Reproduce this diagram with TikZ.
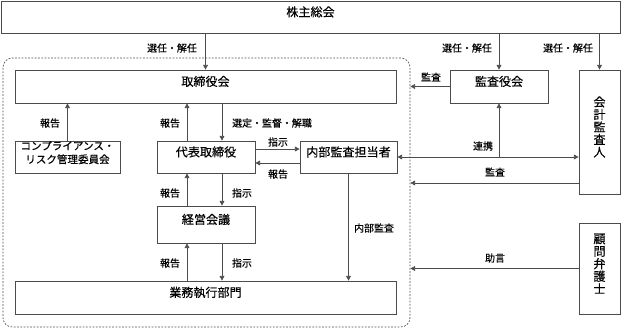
\documentclass[tikz,border=0pt]{standalone}
\usepackage{fontspec}
\setmainfont{Noto Sans CJK JP}[FakeBold=0.4]
\usetikzlibrary{arrows.meta, positioning, fit}
\newcommand{\boxfont}{\fontsize{10.3pt}{10.7pt}\selectfont}
\newcommand{\lblfont}{\fontsize{8.5pt}{10pt}\selectfont}

\begin{document}
\begin{tikzpicture}[x=0.03cm, y=-0.03cm,
    box/.style={draw=black!70, line width=0.6pt, inner sep=0pt, font=\boxfont, align=center},
    lbl/.style={font=\lblfont, inner sep=1pt},
    arr/.style={-{Triangle[length=4pt,width=4pt]}, black!70, line width=0.6pt},
    darr/.style={{Triangle[length=4pt,width=4pt]}-{Triangle[length=4pt,width=4pt]}, black!70, line width=0.6pt}
]
    \useasboundingbox (0,0) rectangle (621,328);

    % Outer bodies
    \node[box, fit={(1,1) (620,33)}] (soukai) {株主総会};
    \node[draw=black!70, line width=0.6pt, dash pattern=on 1.5pt off 1.3pt, rounded corners=8pt,
          inner sep=0pt, fit={(3,58) (410,327)}] (group) {};
    \node[box, fit={(450,70) (548,103)}] (kansa) {監査役会};
    \node[box, fit={(579,70) (620,194)}] (kaikei) {会\\計\\監\\査\\人};
    \node[box, fit={(579,223) (620,314)}] (komon) {顧\\問\\弁\\護\\士};

    % Inside the company
    \node[box, fit={(15,70) (396,103)}] (tori) {取締役会};
    \node[box, fit={(15,141) (120,173)}, font=\fontsize{9pt}{11.5pt}\selectfont] (comp) {コンプライアンス・\\リスク管理委員会};
    \node[box, fit={(157,141) (255,173)}] (daihyo) {代表取締役};
    \node[box, fit={(300,141) (397,173)}] (naibu) {内部監査担当者};
    \node[box, fit={(157,206) (255,243)}] (keiei) {経営会議};
    \node[box, fit={(15,281) (396,314)}] (gyomu) {業務執行部門};

    % Line positions
    \coordinate (up) at (187,0);
    \coordinate (down) at (222,0);
    \coordinate (toR) at (0,149);
    \coordinate (toL) at (0,163);
    \coordinate (audit) at (0,183);

    % Election by the shareholders
    \draw[arr] (soukai.south -| tori.north) -- (tori.north);
    \draw[arr] (soukai.south -| kansa.north) -- (kansa.north);
    \draw[arr] (soukai.south -| kaikei.north) -- (kaikei.north);
    \node[lbl] (sen1) at (172,48) {選任・解任};
    \node[lbl] (sen2) at (467,48) {選任・解任};
    \node[lbl] (sen3) at (568,48) {選任・解任};

    % Audit board
    \draw[arr] (kansa.west) -- (kansa.west -| group.east);
    \node[lbl] (kansa1) at (431,77) {監査};

    % Board and representative director
    \draw[arr] (comp.north) -- (comp.north |- tori.south);
    \node[lbl] (hou1) at (50,123) {報告};
    \draw[arr] (daihyo.north -| up) -- (tori.south -| up);
    \node[lbl] (hou2) at (170,123) {報告};
    \draw[arr] (tori.south -| down) -- (daihyo.north -| down);
    \node[lbl] (sentei) at (272,123) {選定・監督・解職};

    % Representative director and internal audit
    \draw[arr] (daihyo.east |- toR) -- (naibu.west |- toR);
    \node[lbl] (shiji1) at (278,142) {指示};
    \draw[arr] (naibu.west |- toL) -- (daihyo.east |- toL);
    \node[lbl] (hou3) at (278,174) {報告};

    % Management meeting
    \draw[arr] (keiei.north -| up) -- (daihyo.south -| up);
    \node[lbl] (hou4) at (170,193) {報告};
    \draw[arr] (daihyo.south -| down) -- (keiei.north -| down);
    \node[lbl] (shiji2) at (242,193) {指示};

    % Business division
    \draw[arr] (gyomu.north -| up) -- (keiei.south -| up);
    \node[lbl] (hou5) at (170,263) {報告};
    \draw[arr] (keiei.south -| down) -- (gyomu.north -| down);
    \node[lbl] (shiji3) at (242,263) {指示};
    \draw[arr] (naibu.south) -- (naibu.south |- gyomu.north);
    \node[lbl] (naibukansa) at (374,228) {内部監査};

    % Accounting auditor
    \draw[darr] (naibu.east) -- (naibu.east -| kaikei.west);
    \draw[arr] (naibu.east -| kansa.south) -- (kansa.south);
    \node[lbl] (renkei) at (483,146) {連携};
    \draw[arr] (kaikei.west |- audit) -- (group.east |- audit);
    \node[lbl] (kansa2) at (495,172) {監査};

    % Legal counsel
    \draw[arr] (komon.west) -- (komon.west -| group.east);
    \node[lbl] (jogen) at (495,258) {助言};
\end{tikzpicture}
\end{document}
